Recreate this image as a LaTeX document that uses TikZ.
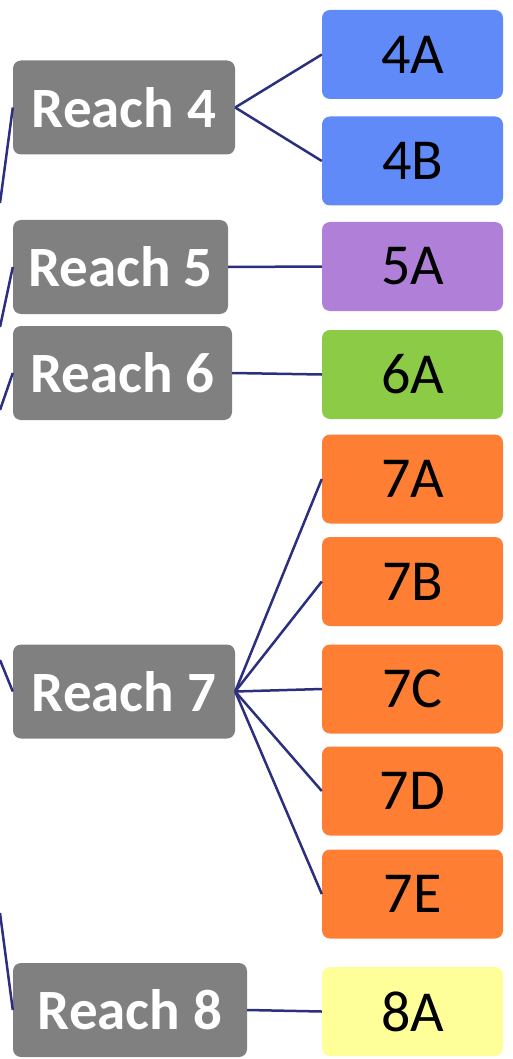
\documentclass[tikz,border=0pt]{standalone}
\usepackage{fontspec}
\setmainfont{Carlito}
\definecolor{reachgray}{HTML}{808080}
\definecolor{linkblue}{HTML}{2B2F7E}
\definecolor{seg4}{HTML}{5F8AF7}
\definecolor{seg5}{HTML}{B07FD8}
\definecolor{seg6}{HTML}{8CCB46}
\definecolor{seg7}{HTML}{FE7F33}
\definecolor{seg8}{HTML}{FFFF99}
\tikzset{
  reach/.style={fill=reachgray, rounded corners=8pt, inner sep=0pt,
    minimum height=94pt, text=white, font=\fontsize{57}{60}\selectfont\bfseries},
  segbox/.style={rounded corners=8pt, inner sep=0pt, minimum width=181pt,
    minimum height=89pt, text=black, font=\fontsize{58}{60}\selectfont},
  link/.style={draw=linkblue, line width=2.5pt}
}

\begin{document}
\begin{tikzpicture}[x=1pt, y=-1pt]
    % 画布大小
    \useasboundingbox (0,0) rectangle (513,1059);

    % 绘制左侧的河段节点
    \node[reach, minimum width=222pt] (r4) at (124,107.5) {Reach 4};
    \node[reach, minimum width=215pt] (r5) at (120.5,267) {Reach 5};
    \node[reach, minimum width=219pt] (r6) at (122.5,373) {Reach 6};
    \node[reach, minimum width=222pt] (r7) at (124,691.5) {Reach 7};
    \node[reach, minimum width=234pt] (r8) at (130,1010) {Reach 8};

    % 绘制右侧的分段节点
    \node[segbox, fill=seg4] (s4a) at (412.5,54.5) {4A};
    \node[segbox, fill=seg4] (s4b) at (412.5,161) {4B};
    \node[segbox, fill=seg5] (s5a) at (412.5,266.5) {5A};
    \node[segbox, fill=seg6] (s6a) at (412.5,374.5) {6A};
    \node[segbox, fill=seg7] (s7a) at (412.5,479) {7A};
    \node[segbox, fill=seg7] (s7b) at (412.5,581.5) {7B};
    \node[segbox, fill=seg7] (s7c) at (412.5,689) {7C};
    \node[segbox, fill=seg7] (s7d) at (412.5,791) {7D};
    \node[segbox, fill=seg7] (s7e) at (412.5,894) {7E};
    \node[segbox, fill=seg8] (s8a) at (412.5,1011.5) {8A};

    % 左边缘上的连线端点
    \coordinate (in4) at (0,203);
    \coordinate (in5) at (0,327);
    \coordinate (in6) at (0,410);
    \coordinate (in7) at (0,660);
    \coordinate (in8) at (0,913);

    % 绘制连线
    \draw[link] (in4) -- (r4.west);
    \draw[link] (in5) -- (r5.west);
    \draw[link] (in6) -- (r6.west);
    \draw[link] (in7) -- (r7.west);
    \draw[link] (in8) -- (r8.west);
    \draw[link] (r4.east) -- (s4a.west);
    \draw[link] (r4.east) -- (s4b.west);
    \draw[link] (r5.east) -- (s5a.west);
    \draw[link] (r6.east) -- (s6a.west);
    \draw[link] (r7.east) -- (s7a.west);
    \draw[link] (r7.east) -- (s7b.west);
    \draw[link] (r7.east) -- (s7c.west);
    \draw[link] (r7.east) -- (s7d.west);
    \draw[link] (r7.east) -- (s7e.west);
    \draw[link] (r8.east) -- (s8a.west);

\end{tikzpicture}
\end{document}
